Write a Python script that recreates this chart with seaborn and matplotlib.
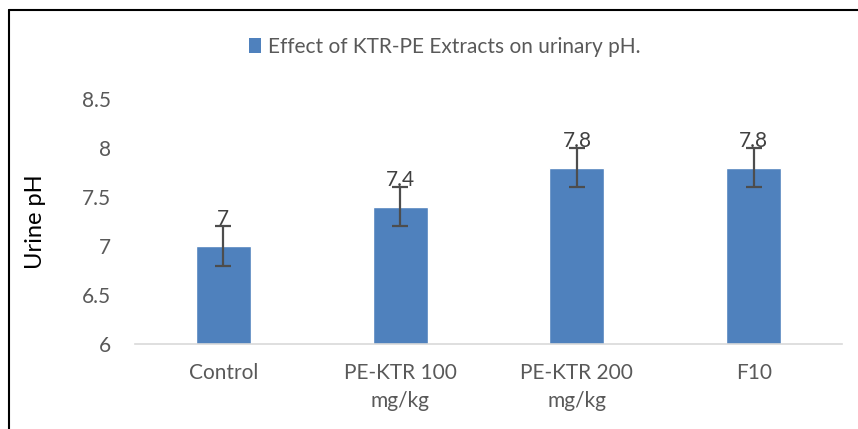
import matplotlib
matplotlib.use("Agg")
import matplotlib.pyplot as plt
import seaborn as sns
import pandas as pd
from matplotlib.lines import Line2D
from matplotlib.patches import Patch

categories = ["Control", "PE-KTR 100\nmg/kg", "PE-KTR 200\nmg/kg", "F10"]
values = [7.0, 7.4, 7.8, 7.8]
errors = [0.2, 0.2, 0.2, 0.2]
value_labels = ["7", "7.4", "7.8", "7.8"]
yticks = [6, 6.5, 7, 7.5, 8, 8.5]
ytick_labels = ["6", "6.5", "7", "7.5", "8", "8.5"]
legend_label = "Effect of KTR-PE Extracts on urinary pH."
ylabel = "Urine pH"

sns.set_theme(style="white")
plt.rcParams['font.family'] = ['Lato', 'DejaVu Sans']

df = pd.DataFrame({"cat": categories, "val": values})
bar_color = "#4F81BD"
text_color = "#595959"

fig = plt.figure(figsize=(8.58, 4.29), dpi=100)
ax = fig.add_axes([135/858, 1-344/429, (842-135)/858, (344-99)/429])

sns.barplot(data=df, x="cat", y="val", color=bar_color, saturation=1,
            width=0.31, ax=ax)
ax.errorbar(range(len(categories)), values, yerr=errors, fmt="none",
            ecolor="#4d4d4d", elinewidth=1.6, capsize=6, capthick=1.6, zorder=5)
for i, (v, lab) in enumerate(zip(values, value_labels)):
    ax.text(i, v + 0.17, lab, ha="center", va="bottom", fontsize=15,
            color="#404040", zorder=6)

ax.set_ylim(6, 8.5)
ax.set_xlim(-0.5, len(categories) - 0.5)
ax.set_yticks(yticks)
ax.set_yticklabels(ytick_labels)
ax.tick_params(axis="y", length=0, labelsize=15, labelcolor=text_color, pad=17)
ax.tick_params(axis="x", length=0, labelsize=15, labelcolor=text_color, pad=14)
for t in ax.get_xticklabels():
    t.set_linespacing(1.45)
ax.set_xlabel("")
ax.set_ylabel(ylabel, fontsize=17, color="black")
ax.yaxis.set_label_coords(-(135-46)/707, 0.5)
for s in ["top", "right", "left"]:
    ax.spines[s].set_visible(False)
ax.spines["bottom"].set_color("#d9d9d9")
ax.spines["bottom"].set_linewidth(1.2)
ax.grid(False)

handles = [Patch(facecolor=bar_color, edgecolor="none")]
fig.legend(handles, [legend_label], loc="center", bbox_to_anchor=(0.518, 1-47/429),
           frameon=False, fontsize=15, labelcolor=text_color,
           handlelength=0.6, handleheight=0.7, handletextpad=0.3)

# outer border (left & top)
fig.add_artist(Line2D([8.5/858, 8.5/858], [0, 1-9.5/429], transform=fig.transFigure,
                      color="black", lw=1.5))
fig.add_artist(Line2D([8.5/858, 1], [1-9.5/429, 1-9.5/429], transform=fig.transFigure,
                      color="black", lw=1.5))

fig.savefig("out.png", dpi=100)
